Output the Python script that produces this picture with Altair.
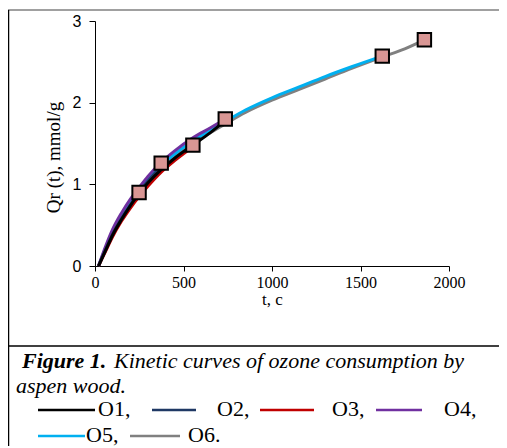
import altair as alt
import pandas as pd

# ---------------- data ----------------
t_vals = [20, 60, 100, 150, 200, 249, 300, 374, 450, 553, 650, 736,
          850, 1000, 1150, 1300, 1450, 1623, 1750, 1861]

q_O1 = [0, 0.19, 0.38, 0.57, 0.74, 0.89, 1.02, 1.18, 1.32, 1.48, 1.63, 1.78]
q_O2 = [0, 0.20, 0.39, 0.58, 0.75, 0.90, 1.04, 1.22]
q_O3 = [0, 0.18, 0.36, 0.55, 0.71, 0.85, 0.98, 1.15, 1.29, 1.46]
q_O4 = [0, 0.24, 0.45, 0.65, 0.82, 0.96, 1.10, 1.27, 1.41, 1.57, 1.69, 1.80]
q_O5 = [0, 0.22, 0.41, 0.61, 0.78, 0.92, 1.06, 1.23, 1.37, 1.53, 1.66, 1.77,
        1.91, 2.06, 2.19, 2.32, 2.44, 2.57]
q_O6 = [0, 0.21, 0.39, 0.58, 0.75, 0.89, 1.02, 1.19, 1.33, 1.50, 1.63, 1.74,
        1.88, 2.03, 2.16, 2.29, 2.42, 2.56, 2.66, 2.77]

series_names = ["O1", "O2", "O3", "O4", "O5", "O6"]
series_vals = [q_O1, q_O2, q_O3, q_O4, q_O5, q_O6]
series_colors = ["#000000", "#1f3864", "#c00000", "#7030a0", "#00b0f0", "#808080"]
draw_order = ["O6", "O5", "O4", "O3", "O2", "O1"]

marker_t = [249, 374, 553, 736, 1623, 1861]
marker_q = [0.90, 1.26, 1.48, 1.80, 2.57, 2.77]

x_ticks = [0, 500, 1000, 1500, 2000]
y_ticks = [0, 1, 2, 3]

caption_bold = "Figure 1."
caption_rest = "Kinetic curves of ozone consumption by"
caption_line2 = "aspen wood."
legend_labels = ["O1,", "O2,", "O3,", "O4,", "O5,", "O6."]

# ---------------- layout (pixels relative to plot origin) ----------------
W, H = 354, 245
legend_layout = [  # x1, x2 of sample line, y of line, x of text, y of text baseline
    (-57, 0, 389, 3, 395),
    (57, 101, 389, 122, 395),
    (165, 219, 389, 237, 395),
    (281, 327, 389, 349, 395),
    (-57, -10, 415, -9, 421),
    (35, 85, 415, 93, 421),
]

SERIF = "Liberation Serif"
SANS = "Liberation Sans"

xs = alt.Scale(domain=[0, 2000], nice=False)
ys = alt.Scale(domain=[0, 3], nice=False)

layers = []
for name in draw_order:
    i = series_names.index(name)
    vals = series_vals[i]
    df = pd.DataFrame({"t": t_vals[:len(vals)], "q": vals})
    layers.append(
        alt.Chart(df).mark_line(strokeWidth=3, interpolate="monotone",
                                color=series_colors[i]).encode(
            x=alt.X("t:Q", scale=xs,
                    axis=alt.Axis(values=x_ticks, title="t, c", grid=False,
                                  format="d", labelFlush=False,
                                  labelFont=SERIF, labelFontSize=16,
                                  labelColor="black", tickSize=5,
                                  labelPadding=3, titleFont=SERIF,
                                  titleFontSize=17, titleFontWeight="normal",
                                  titleColor="black", titleY=38,
                                  titleBaseline="alphabetic",
                                  domainColor="black", tickColor="black")),
            y=alt.Y("q:Q", scale=ys,
                    axis=alt.Axis(values=y_ticks, title="Qr (t), mmol/g",
                                  grid=False, format="d", labelFlush=False,
                                  labelFont=SANS,
                                  labelFontSize=16, labelColor="black",
                                  tickSize=6, labelPadding=8,
                                  titleFont=SERIF, titleFontSize=19,
                                  titleFontWeight="normal", titleColor="black",
                                  titleX=-42, titleY=136, titleAngle=270,
                                  titleAlign="center", titleBaseline="middle",
                                  domainColor="black", tickColor="black")),
        )
    )

mdf = pd.DataFrame({"t": marker_t, "q": marker_q})
markers = alt.Chart(mdf).mark_square(size=180, fill="#d99694", stroke="black",
                                     strokeWidth=2, opacity=1).encode(
    x=alt.X("t:Q", scale=xs), y=alt.Y("q:Q", scale=ys))

# frame lines
frame_df = pd.DataFrame({
    "x": [-87, -86.5, -87],
    "x2": [404, -86.5, 404],
    "y": [-11, -11, 325],
    "y2": [-11, 430, 325],
    "c": ["#a0a0a0", "#000000", "#000000"],
    "w": [2, 1.5, 1.5],
})
frame = alt.Chart(frame_df).mark_rule().encode(
    x=alt.X("x:Q", scale=None), x2="x2:Q",
    y=alt.Y("y:Q", scale=None), y2="y2:Q",
    color=alt.Color("c:N", scale=None),
    strokeWidth=alt.StrokeWidth("w:Q", scale=None),
)

# caption
cap1 = alt.Chart(pd.DataFrame({"s": [caption_bold]})).mark_text(
    font=SERIF, fontSize=22, fontStyle="italic", fontWeight="bold",
    align="left", baseline="alphabetic", color="black").encode(
    x=alt.value(-73), y=alt.value(347), text="s:N")
cap2 = alt.Chart(pd.DataFrame({"s": [caption_rest]})).mark_text(
    font=SERIF, fontSize=22, fontStyle="italic",
    align="left", baseline="alphabetic", color="black").encode(
    x=alt.value(19), y=alt.value(347), text="s:N")
cap3 = alt.Chart(pd.DataFrame({"s": [caption_line2]})).mark_text(
    font=SERIF, fontSize=22, fontStyle="italic",
    align="left", baseline="alphabetic", color="black").encode(
    x=alt.value(-79), y=alt.value(372), text="s:N")

# legend in caption
leg_df = pd.DataFrame({
    "label": legend_labels,
    "color": series_colors,
    "x1": [p[0] for p in legend_layout],
    "x2": [p[1] for p in legend_layout],
    "ly": [p[2] for p in legend_layout],
    "tx": [p[3] for p in legend_layout],
    "ty": [p[4] for p in legend_layout],
})
leg_lines = alt.Chart(leg_df).mark_rule(strokeWidth=2.5).encode(
    x=alt.X("x1:Q", scale=None), x2="x2:Q",
    y=alt.Y("ly:Q", scale=None),
    color=alt.Color("color:N", scale=None),
)
leg_text = alt.Chart(leg_df).mark_text(
    font=SERIF, fontSize=22, align="left", baseline="alphabetic",
    color="black").encode(
    x=alt.X("tx:Q", scale=None), y=alt.Y("ty:Q", scale=None), text="label:N")

chart = alt.layer(*layers, markers, frame, cap1, cap2, cap3, leg_lines,
                  leg_text).properties(
    width=W, height=H,
    autosize=alt.AutoSizeParams(type="none"),
    padding={"left": 87, "top": 13, "right": 50, "bottom": 180},
    background="white",
).configure_view(stroke=None)

chart.save("out.html", embed_options={"renderer": "svg", "actions": False})
